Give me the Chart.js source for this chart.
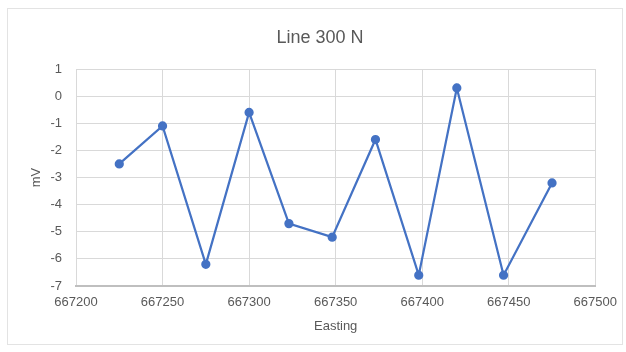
<!DOCTYPE html>
<html>
<head>
<meta charset="utf-8">
<title>Line 300 N</title>
<script src="https://cdn.jsdelivr.net/npm/chart.js@4.4.1/dist/chart.umd.min.js"></script>
<style>
  html, body { margin: 0; padding: 0; background: #fff; }
  #frame {
    position: absolute; left: 7px; top: 8px; width: 616px; height: 337px;
    box-sizing: border-box; border: 1px solid #e3e3e3;
  }
  #chart { position: absolute; left: 0; top: 0; }
</style>
</head>
<body>
<div id="frame"></div>
<canvas id="chart" width="626" height="352"></canvas>
<script>
// Line 300 N profile, readings in mV along easting
const eastings = [667225, 667250, 667275, 667300, 667323, 667348, 667373, 667398, 667420, 667447, 667475];
const readings = [-2.5, -1.1, -6.2, -0.6, -4.7, -5.2, -1.6, -6.6, 0.3, -6.6, -3.2];

const chartTitle = 'Line 300 N';
const xTitle = 'Easting';
const yTitle = 'mV';

const textColor = '#595959';
const gridColor = '#d9d9d9';
const lineColor = '#4472C4';

// title sits centred over the frame, not over the plot area
const titlePlugin = {
  id: 'frameTitle',
  afterDraw(chart) {
    const ctx = chart.ctx;
    ctx.save();
    ctx.font = '18px "Liberation Sans", Arial, sans-serif';
    ctx.fillStyle = textColor;
    ctx.textAlign = 'center';
    ctx.textBaseline = 'middle';
    ctx.fillText(chartTitle, 320, 38);
    ctx.restore();
  }
};

const points = eastings.map((e, i) => ({ x: e, y: readings[i] }));

new Chart(document.getElementById('chart'), {
  type: 'line',
  data: {
    datasets: [{
      data: points,
      borderColor: lineColor,
      backgroundColor: lineColor,
      borderWidth: 2.25,
      pointRadius: 3.5,
      pointBackgroundColor: lineColor,
      pointBorderColor: lineColor,
      tension: 0
    }]
  },
  options: {
    responsive: false,
    animation: false,
    layout: { padding: { top: 69, left: 20, right: 29, bottom: 8 } },
    plugins: {
      legend: { display: false },
      title: { display: false },
      tooltip: { enabled: false }
    },
    scales: {
      x: {
        type: 'linear',
        min: 667200,
        max: 667500,
        afterFit(scale) { scale.height = 58; },
        ticks: {
          stepSize: 50,
          padding: 9,
          color: textColor,
          font: { family: '"Liberation Sans", Arial, sans-serif', size: 13 },
          callback: v => String(v)
        },
        grid: { color: gridColor, drawTicks: false },
        border: { color: '#bfbfbf', width: 2 },
        title: {
          display: true,
          text: xTitle,
          color: textColor,
          padding: { top: 0, bottom: 10 },
          font: { family: '"Liberation Sans", Arial, sans-serif', size: 13 }
        }
      },
      y: {
        min: -7,
        max: 1,
        afterFit(scale) { scale.width = 56; },
        ticks: {
          stepSize: 1,
          padding: 14,
          color: textColor,
          font: { family: '"Liberation Sans", Arial, sans-serif', size: 13 }
        },
        grid: { color: gridColor, drawTicks: false },
        border: { display: false },
        title: {
          display: true,
          text: yTitle,
          color: textColor,
          padding: { top: 9, bottom: 0 },
          font: { family: '"Liberation Sans", Arial, sans-serif', size: 13 }
        }
      }
    }
  },
  plugins: [titlePlugin]
});
</script>
</body>
</html>
